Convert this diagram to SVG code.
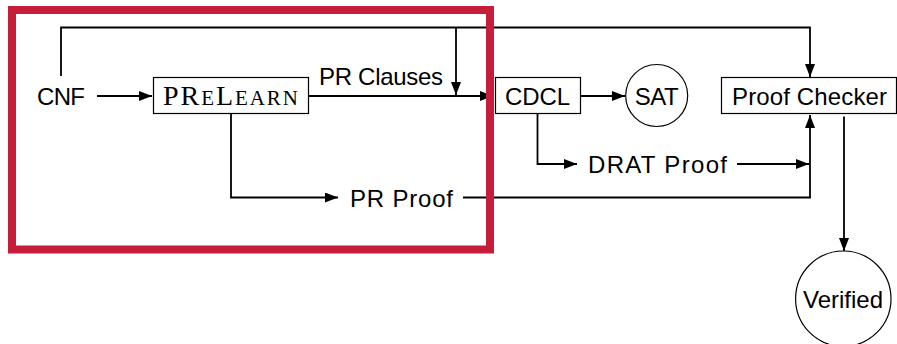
<svg xmlns="http://www.w3.org/2000/svg" width="897" height="344" viewBox="0 0 897 344">
  <defs>
    <marker id="arrow" markerUnits="userSpaceOnUse" markerWidth="14" markerHeight="11" refX="13" refY="5" orient="auto">
      <path d="M0,0 L13,5 L0,10 Z" fill="#000"/>
    </marker>
    <style>
      .lbl { font-family: "Liberation Sans", Arial, sans-serif; font-size: 24px; fill: #000; }
      .serif { font-family: "Liberation Serif", "Times New Roman", serif; fill: #000; }
      .box { fill: #fff; stroke: #000; stroke-width: 1.2; }
      .edge { fill: none; stroke: #000; stroke-width: 1.8; }
      .arr { marker-end: url(#arrow); }
    </style>
  </defs>
  <rect width="897" height="344" fill="#fff"/>

  <!-- connectors -->
  <g id="connectors">
    <path class="edge arr" d="M97,96 H152"/>
    <path class="edge arr" d="M309,96 H493"/>
    <path class="edge arr" d="M61,76 V27.5 H810 V77"/>
    <path class="edge arr" d="M456,27.5 V95"/>
    <path class="edge arr" d="M580,96 H625"/>
    <path class="edge arr" d="M231,114 V197.5 H338"/>
    <path class="edge arr" d="M463,197.5 H810 V115"/>
    <path class="edge arr" d="M537.5,114 V164 H577"/>
    <path class="edge arr" d="M737,164 H809"/>
    <path class="edge arr" d="M844,116.5 V251"/>
  </g>

  <!-- nodes -->
  <g id="cnf">
    <text class="lbl" x="37" y="105" textLength="48">CNF</text>
  </g>
  <g id="prelearn">
    <rect class="box" x="153.5" y="77.5" width="155" height="36"/>
    <text class="serif" x="163" y="105" textLength="135" lengthAdjust="spacing"><tspan font-size="28">PR</tspan><tspan font-size="21">E</tspan><tspan font-size="28">L</tspan><tspan font-size="21">EARN</tspan></text>
  </g>
  <g id="pr-clauses">
    <text class="lbl" x="319" y="85" textLength="124">PR Clauses</text>
  </g>
  <g id="cdcl">
    <rect class="box" x="495.5" y="77.5" width="85" height="36"/>
    <text class="lbl" x="505" y="105" textLength="65">CDCL</text>
  </g>
  <g id="sat">
    <circle cx="656.7" cy="95.5" r="31" fill="#fff" stroke="#000" stroke-width="1.2"/>
    <text class="lbl" x="656.7" y="105" text-anchor="middle" textLength="44">SAT</text>
  </g>
  <g id="proof-checker">
    <rect class="box" x="721.5" y="77.5" width="175" height="36"/>
    <text class="lbl" x="732" y="105" textLength="155">Proof Checker</text>
  </g>
  <g id="drat-proof">
    <text class="lbl" x="588" y="173" textLength="139">DRAT Proof</text>
  </g>
  <g id="pr-proof">
    <text class="lbl" x="350" y="207" textLength="103">PR Proof</text>
  </g>
  <g id="verified">
    <circle cx="843.3" cy="298.7" r="47.7" fill="#fff" stroke="#000" stroke-width="1.2"/>
    <text class="lbl" x="843" y="308" text-anchor="middle" textLength="80">Verified</text>
  </g>

  <!-- highlight frame -->
  <g id="highlight">
    <rect x="12" y="10" width="478" height="239.5" fill="none" stroke="#C41E3A" stroke-width="8"/>
  </g>
</svg>
